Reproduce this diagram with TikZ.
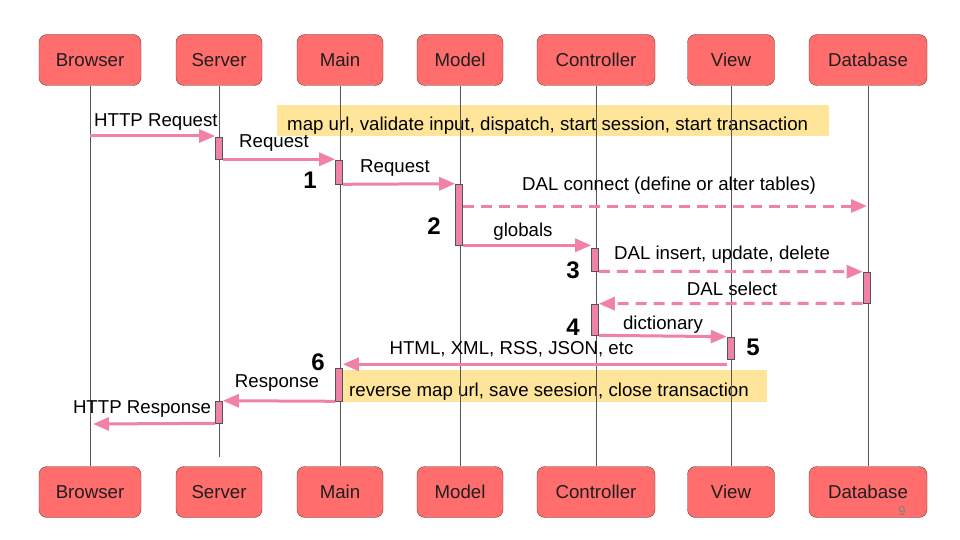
\documentclass[tikz,border=0pt]{standalone}
\usepackage{fontspec}
\setmainfont{Liberation Sans}
\usetikzlibrary{arrows.meta}
\definecolor{boxred}{RGB}{255,109,109}
\definecolor{boxline}{RGB}{105,60,60}
\definecolor{msgpink}{RGB}{240,130,170}
\definecolor{noteyellow}{RGB}{255,229,153}
\definecolor{lifegray}{RGB}{85,85,85}

\begin{document}
\begin{tikzpicture}[x=1pt, y=-1pt]
\tikzset{actor/.style = {rectangle, rounded corners=8pt, draw=boxline, fill=boxred, minimum height=51pt, font=\fontsize{18.67}{22}\selectfont, text=black!88}}
\tikzset{life/.style = {draw=lifegray, line width=.8pt}}
\tikzset{bar/.style = {rectangle, draw=lifegray, fill=msgpink, line width=.6pt, minimum width=7pt, inner sep=0pt}}
\tikzset{msg/.style = {-{Triangle[length=16pt, width=13pt]}, color=msgpink, line width=3pt}}
\tikzset{reply/.style = {msg, dash pattern=on 11pt off 7pt}}
\tikzset{lbl/.style = {font=\fontsize{18.67}{22}\selectfont, inner sep=0pt, anchor=base}}
\tikzset{num/.style = {font=\fontsize{24}{28}\selectfont\bfseries, inner sep=0pt, anchor=base}}
\tikzset{note/.style = {rectangle, fill=noteyellow, inner sep=0pt, anchor=north west}}

\useasboundingbox (0,0) rectangle (960,540);

\foreach \n/\t/\x/\w in {browser/Browser/90/102, server/Server/219/86, main/Main/340/86, model/Model/460/86, controller/Controller/596/118, view/View/731/87, database/Database/868/118}
   {\node[actor, minimum width=\w] (\n) at (\x, 60) {\t};
    \node[actor, minimum width=\w] (\n B) at (\x, 492) {\t};}

\node[note, minimum width=552, minimum height=31] (enter) at (277, 105) {};
\node[note, minimum width=426, minimum height=32] (leave) at (341, 370) {};
\node[lbl, anchor=base west] (enter text) at (287, 131) {map url, validate input, dispatch, start session, start transaction};
\node[lbl, anchor=base west] (leave text) at (349, 396) {reverse map url, save seesion, close transaction};

\foreach \n in {browser, main, model, controller, view, database}
   {\draw[life] (\n.south) -- (\n B.north);}
\coordinate (server end) at (219, 457);
\draw[life] (server.south) -- (server end);

\node[bar, minimum height=22] (sv1) at (219, 148) {};
\node[bar, minimum height=24] (mn1) at (339, 172) {};
\node[bar, minimum height=61] (md1) at (459, 214.5) {};
\node[bar, minimum height=23] (ct1) at (595, 259.5) {};
\node[bar, minimum height=31] (db1) at (866.5, 287.5) {};
\node[bar, minimum height=31] (ct2) at (595, 319.5) {};
\node[bar, minimum height=22] (vw1) at (730.5, 348) {};
\node[bar, minimum height=33] (mn2) at (339, 384.5) {};
\node[bar, minimum height=22] (sv2) at (219, 412) {};

\coordinate (req start) at (90, 136);
\coordinate (dal end) at (867, 206);
\coordinate (resp end) at (93, 424);

\draw[msg] (req start) -- (req start -| sv1.west);
\draw[msg] (sv1.south east) -- (sv1.south east -| mn1.west);
\draw[msg] (mn1.south east) -- (md1.north west);
\draw[reply] (dal end -| md1.east) -- (dal end);
\draw[msg] (md1.south east) -- (md1.south east -| ct1.west);
\draw[reply] (ct1.south east) -- (db1.north west);
\draw[reply] (db1.south west) -- (ct2.north east);
\draw[msg] (ct2.south east) -- (vw1.north west);
\draw[msg] ([yshift=-5pt]vw1.south west) -- ([yshift=-5pt]vw1.south west -| mn2.east);
\draw[msg] (mn2.south west) -- (sv2.north east);
\draw[msg] (sv2.south west) -- (resp end);

\node[lbl, anchor=base west] (http req) at (94, 127) {HTTP Request};
\node[lbl] (req a) at (274, 148) {Request};
\node[lbl] (req b) at (395, 173) {Request};
\node[lbl] (connect) at (669, 190) {DAL connect (define or alter tables)};
\node[lbl] (globals) at (523, 236) {globals};
\node[lbl] (insert) at (722, 259) {DAL insert, update, delete};
\node[lbl] (select) at (732, 295) {DAL select};
\node[lbl] (dict) at (663, 329) {dictionary};
\node[lbl] (html) at (511.5, 354) {HTML, XML, RSS, JSON, etc};
\node[lbl] (resp) at (277, 387) {Response};
\node[lbl] (http resp) at (142, 413) {HTTP Response};

\node[num] (one) at (310, 188) {1};
\node[num] (two) at (434, 234) {2};
\node[num] (three) at (573, 278) {3};
\node[num] (four) at (573, 335) {4};
\node[num] (five) at (753, 355) {5};
\node[num] (six) at (318, 370) {6};

\node[lbl, font=\fontsize{13}{15}\selectfont, text=black!50] (page) at (902, 515) {9};

\end{tikzpicture}
\end{document}
